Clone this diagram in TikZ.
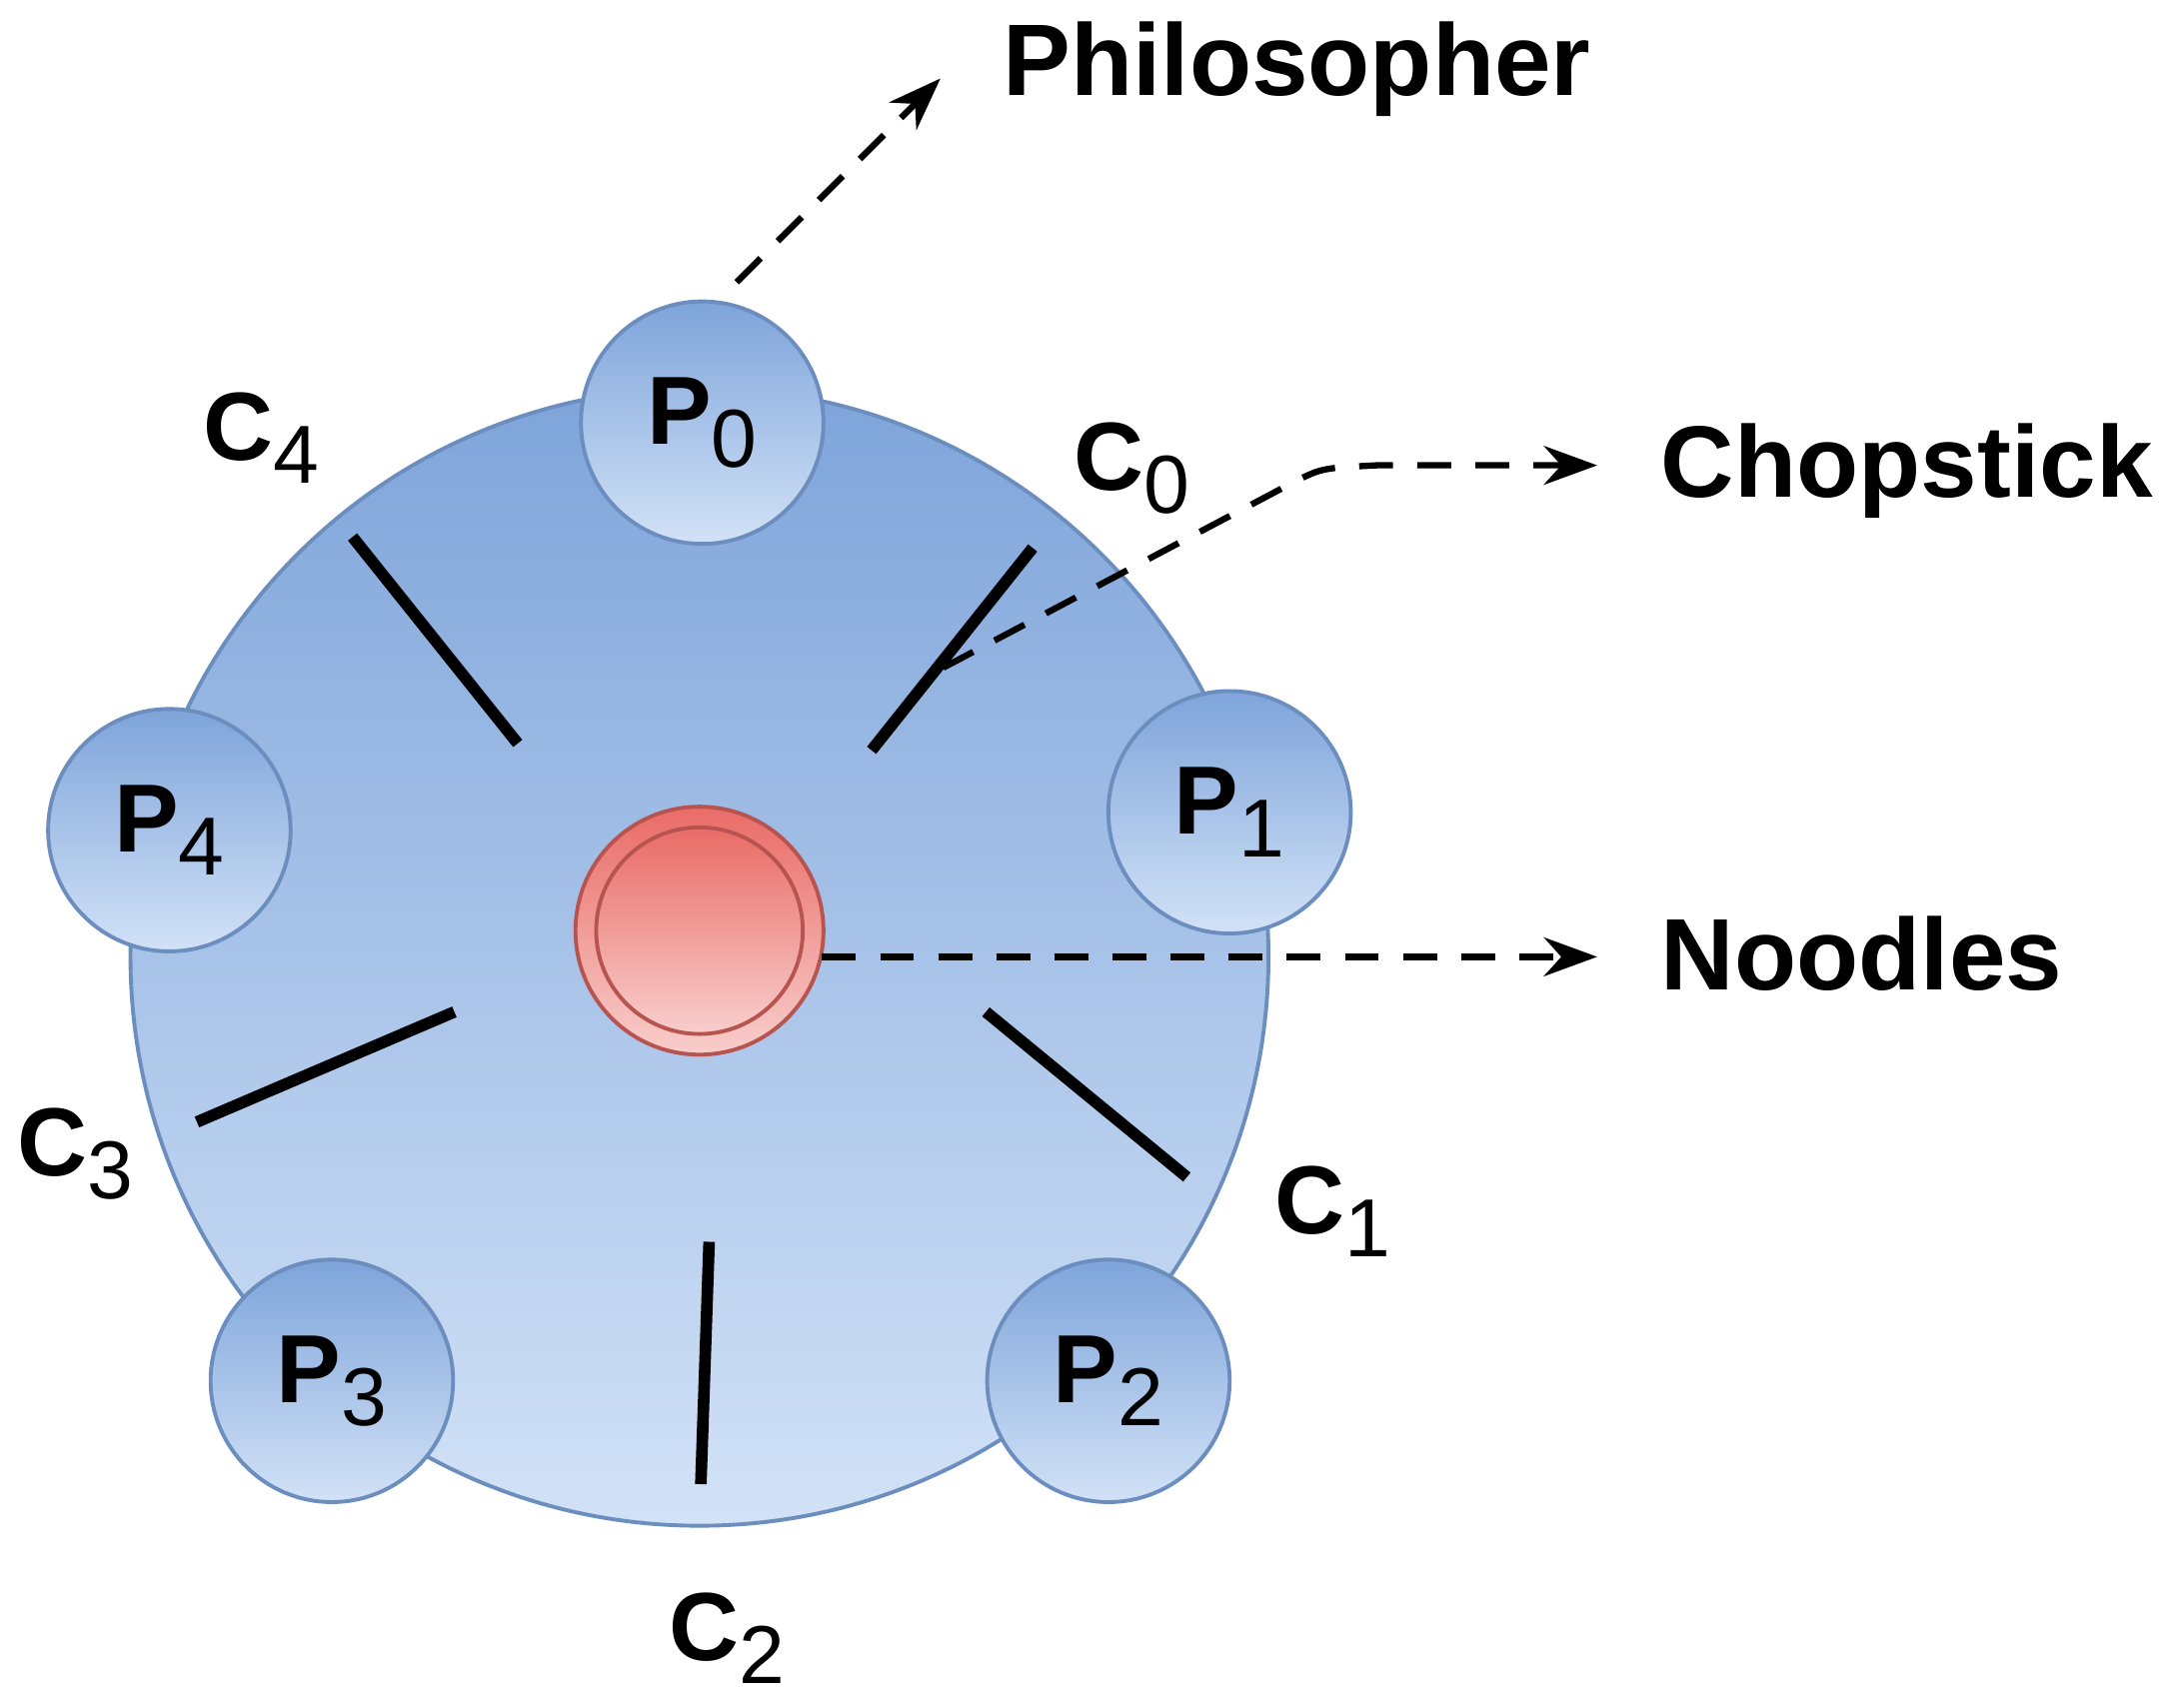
\documentclass[tikz,border=0pt]{standalone}
\usepackage{fontspec}
\setmainfont{Liberation Sans}
\usetikzlibrary{arrows.meta}
\definecolor{btop}{HTML}{7EA4DA}
\definecolor{bbot}{HTML}{D2E2F7}
\definecolor{bord}{HTML}{6C8EBF}
\definecolor{rtop}{HTML}{EA6B66}
\definecolor{rbot}{HTML}{F8CECC}
\definecolor{rbord}{HTML}{B85450}
\newcommand{\sbx}[1]{\raisebox{-0.45ex}{\fontsize{17}{19}\selectfont\mdseries #1}}
\begin{document}
\begin{tikzpicture}[x=0.01cm,y=-0.01cm,
  phil/.style={circle,minimum size=1.76cm,inner sep=0pt,draw=bord,line width=0.8pt,top color=btop,bottom color=bbot,font=\fontsize{20}{24}\selectfont\bfseries},
  stick/.style={line width=2.4pt,black},
  lab/.style={font=\fontsize{20}{24}\selectfont\bfseries},
  big/.style={font=\fontsize{21}{25}\selectfont\bfseries},
  darrow/.style={line width=1.3pt,dash pattern=on 7pt off 5pt,-{Stealth[length=11pt,width=8pt]}}]
\useasboundingbox (0,0) rectangle (1568,1240);
\node[circle,minimum size=8.26cm,inner sep=0pt,draw=bord,line width=0.8pt,top color=btop,bottom color=bbot] (table) at (508,695) {};
\node[phil] (p0) at (510,307) {P\sbx{0}};
\node[phil] (p1) at (893,590) {P\sbx{1}};
\node[phil] (p2) at (805,1003) {P\sbx{2}};
\node[phil] (p3) at (241,1003) {P\sbx{3}};
\node[phil] (p4) at (123,603) {P\sbx{4}};
\node[circle,minimum size=1.8cm,inner sep=0pt,draw=rbord,line width=0.8pt,top color=rtop,bottom color=rbot] (bowl) at (508,676) {};
\node[circle,minimum size=1.5cm,inner sep=0pt,draw=rbord,line width=0.8pt,top color=rtop,bottom color=rbot] (noodle) at (508,676) {};
\coordinate (c0a) at (750,398); \coordinate (c0b) at (633,545);
\coordinate (c4a) at (256,390); \coordinate (c4b) at (376,540);
\coordinate (c3a) at (143,815); \coordinate (c3b) at (330,735);
\coordinate (c2a) at (515,902); \coordinate (c2b) at (509,1078);
\coordinate (c1a) at (716,735); \coordinate (c1b) at (862,855);
\draw[stick] (c0a) -- (c0b);
\draw[stick] (c4a) -- (c4b);
\draw[stick] (c3a) -- (c3b);
\draw[stick] (c2a) -- (c2b);
\draw[stick] (c1a) -- (c1b);
\node[lab] (lc4) at (190,318) {C\sbx{4}};
\node[lab] (lc0) at (822,340) {C\sbx{0}};
\node[lab] (lc3) at (55,838) {C\sbx{3}};
\node[lab] (lc1) at (968,880) {C\sbx{1}};
\node[lab] (lc2) at (528,1190) {C\sbx{2}};
\node[big,anchor=west] (tphil) at (716,50) {Philosopher};
\node[big,anchor=west] (tchop) at (1194,342) {Chopstick};
\node[big,anchor=west] (tnood) at (1194,693) {Noodles};
\coordinate (s0) at (535,205);
\coordinate (s1) at (685,485);
\coordinate (s2) at (597,695);
\coordinate (e0) at (683,57);
\coordinate (e1) at (1160,338);
\coordinate (e2) at (1160,695);
\draw[darrow] (s0) -- (e0);
\draw[darrow] (s1) -- (940,350) .. controls (960,340) .. (1000,338) -- (e1);
\draw[darrow] (s2) -- (e2);
\end{tikzpicture}
\end{document}
